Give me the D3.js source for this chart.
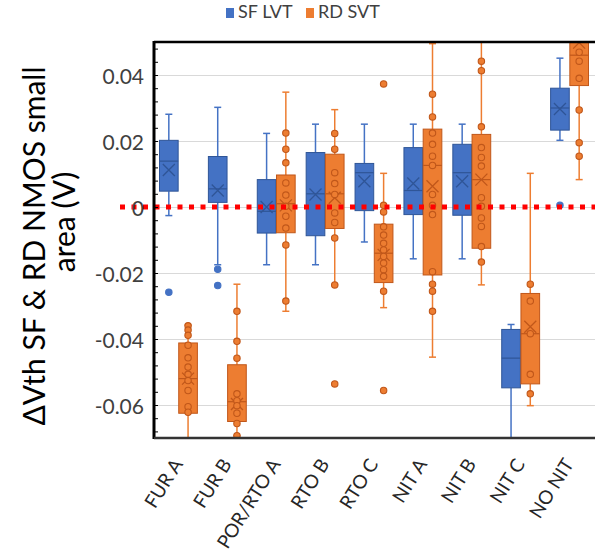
<!DOCTYPE html>
<html>
<head>
<meta charset="utf-8">
<script src="https://cdn.jsdelivr.net/npm/d3@7"></script>
<style>
  body { margin: 0; background: #fff; }
  svg { display: block; font-family: Lato, "Open Sans", sans-serif; }
</style>
</head>
<body>
<svg id="chart" width="595" height="553"></svg>
<script>
// categories + legend names
const categories = ["FUR A", "FUR B", "POR/RTO A", "RTO B", "RTO C", "NIT A", "NIT B", "NIT C", "NO NIT"];
const series = ["SF LVT", "RD SVT"];

// SF LVT box stats
const sfMin    = [-0.0026, -0.0175, -0.0175, -0.0175, -0.0106, -0.0157, -0.0157, -0.075, 0.0202];
const sfQ1     = [0.0048, 0.0014, -0.0079, -0.0087, -0.0011, -0.0023, -0.0025, -0.0548, 0.0233];
const sfMedian = [0.0139, 0.0055, -0.0013, 0.0040, 0.0104, 0.0050, 0.0104, -0.0458, 0.0300];
const sfQ3     = [0.0202, 0.0153, 0.0083, 0.0165, 0.0132, 0.0180, 0.0190, -0.0371, 0.0360];
const sfMax    = [0.0281, 0.0302, 0.0223, 0.0251, 0.0251, 0.0251, 0.0251, -0.0356, 0.0451];
const sfMean   = [0.0112, 0.0050, 0.0000, 0.0038, 0.0078, 0.0071, 0.0078, null, 0.0297];
const sfOutliers = [[-0.0258], [-0.0189, -0.0238], [], [], [], [], [], [], [0.0005]];

// RD SVT box stats
const rdMin    = [-0.075, -0.0693, -0.0316, -0.0236, -0.0305, -0.0455, -0.0236, -0.0602, 0.0083];
const rdQ1     = [-0.0625, -0.0650, -0.0078, -0.0065, -0.0229, -0.0206, -0.0125, -0.0536, 0.0368];
const rdMedian = [-0.0520, -0.0590, 0.0010, 0.0040, -0.0140, 0.0126, 0.0083, -0.0384, 0.0460];
const rdQ3     = [-0.0412, -0.0478, 0.0097, 0.0160, -0.0052, 0.0236, 0.0220, -0.0262, 0.0600];
const rdMax    = [-0.0358, -0.0234, 0.0348, 0.0295, 0.0102, 0.0495, 0.0550, 0.0102, 0.0700];
const rdMean   = [-0.0520, -0.0597, 0.0005, 0.0028, -0.0145, 0.0063, 0.0083, -0.0363, 0.0498];
const rdPoints = [
  [-0.0360, -0.0373, -0.0389, -0.0419, -0.0457, -0.0485, -0.0507, -0.0526, -0.0556, -0.0605, -0.0622],
  [-0.0316, -0.0407, -0.0458, -0.0566, -0.0587, -0.0602, -0.0625, -0.0656, -0.0693],
  [0.0224, 0.0175, 0.0134, 0.0073, 0.0036, 0.0002, -0.0028, -0.0064, -0.0115, -0.0285],
  [0.0223, 0.0175, 0.0104, 0.0071, 0.0038, -0.0018, -0.0047, -0.0094, -0.0236, -0.0536],
  [0.0373, 0.0005, -0.0015, -0.0060, -0.0085, -0.0110, -0.0130, -0.0150, -0.0170, -0.0190, -0.0210, -0.0255, -0.0556],
  [0.0342, 0.0273, 0.0224, 0.0190, 0.0154, 0.0126, 0.0038, 0.0005, -0.0023, -0.0196, -0.0234, -0.0255, -0.0316],
  [0.0442, 0.0413, 0.0243, 0.0180, 0.0150, 0.0124, 0.0028, 0.0002, -0.0033, -0.0059, -0.0120, -0.0167],
  [-0.0234, -0.0285, -0.0384, -0.0507, -0.0566],
  [0.0469, 0.0442, 0.0390, 0.0294, 0.0195, 0.0154]
];

const yTicks = [-0.06, -0.04, -0.02, 0, 0.02, 0.04];
const yTickLabels = ["-0.06", "-0.04", "-0.02", "0", "0.02", "0.04"];

const colors = { "SF LVT": "#4472C4", "RD SVT": "#ED7D31" };
const dark   = { "SF LVT": "#2F5597", "RD SVT": "#C0571A" };

const svg = d3.select("#chart");
const pLeft = 154, pRight = 594, pTop = 42, pBottom = 438;

const y = d3.scaleLinear().domain([-0.07, 0.05]).range([pBottom, pTop]);
const x = d3.scaleBand().domain(categories).range([pLeft, pRight]);
const xs = d3.scaleBand().domain(series).range([5.5, x.bandwidth() - 5.5]).paddingInner(0.03);

// build rows for drawing
const rows = [];
categories.forEach((c, i) => {
  rows.push({ cat: c, s: "SF LVT", min: sfMin[i], q1: sfQ1[i], med: sfMedian[i], q3: sfQ3[i], max: sfMax[i], mean: sfMean[i], pts: sfOutliers[i] });
  rows.push({ cat: c, s: "RD SVT", min: rdMin[i], q1: rdQ1[i], med: rdMedian[i], q3: rdQ3[i], max: rdMax[i], mean: rdMean[i], pts: rdPoints[i] });
});

svg.append("defs").append("clipPath").attr("id", "plot")
  .append("rect").attr("x", pLeft).attr("y", pTop).attr("width", 595 - pLeft).attr("height", pBottom - pTop);

// gridlines
svg.append("g")
  .attr("transform", `translate(${pLeft},0)`)
  .call(d3.axisLeft(y).tickValues(yTicks).tickSize(-(595 - pLeft)).tickFormat(""))
  .call(g => g.select(".domain").remove())
  .call(g => g.selectAll("line").attr("stroke", "#d9d9d9").attr("stroke-width", 1));

const plot = svg.append("g").attr("clip-path", "url(#plot)");

const box = plot.selectAll("g.box").data(rows).enter().append("g")
  .attr("class", "box")
  .attr("transform", d => `translate(${x(d.cat) + xs(d.s)},0)`);

const bw = xs.bandwidth();
const cx = bw / 2;

// whiskers
box.append("line")
  .attr("x1", cx).attr("x2", cx)
  .attr("y1", d => y(d.max)).attr("y2", d => y(d.q3))
  .attr("stroke", d => colors[d.s]).attr("stroke-width", 1.5);
box.append("line")
  .attr("x1", cx).attr("x2", cx)
  .attr("y1", d => y(d.q1)).attr("y2", d => y(d.min))
  .attr("stroke", d => colors[d.s]).attr("stroke-width", 1.5);
box.selectAll("line.cap").data(d => [d.min, d.max].map(v => ({ v, s: d.s }))).enter().append("line")
  .attr("class", "cap")
  .attr("x1", cx - 3.5).attr("x2", cx + 3.5)
  .attr("y1", d => y(d.v)).attr("y2", d => y(d.v))
  .attr("stroke", d => colors[d.s]).attr("stroke-width", 1.5);

// box
box.append("rect")
  .attr("x", 0).attr("width", bw)
  .attr("y", d => y(d.q3)).attr("height", d => y(d.q1) - y(d.q3))
  .attr("fill", d => colors[d.s]).attr("stroke", d => dark[d.s]).attr("stroke-width", 1);

// median
box.append("line")
  .attr("x1", 0).attr("x2", bw)
  .attr("y1", d => y(d.med)).attr("y2", d => y(d.med))
  .attr("stroke", d => dark[d.s]).attr("stroke-width", 1.2);

// mean X
box.filter(d => d.mean != null).append("path")
  .attr("d", d => {
    const m = y(d.mean), r = 6;
    return `M${cx - r},${m - r}L${cx + r},${m + r}M${cx - r},${m + r}L${cx + r},${m - r}`;
  })
  .attr("fill", "none").attr("stroke", d => dark[d.s]).attr("stroke-width", 1.3);

// points
box.selectAll("circle").data(d => d.pts.map(v => ({ v, s: d.s }))).enter().append("circle")
  .attr("cx", cx).attr("cy", d => y(d.v))
  .attr("r", 3.2)
  .attr("fill", d => colors[d.s])
  .attr("stroke", d => d.s === "RD SVT" ? dark[d.s] : colors[d.s])
  .attr("stroke-width", 1.1);

// zero reference line (red dotted)
svg.append("line")
  .attr("x1", 120).attr("x2", 595)
  .attr("y1", y(0)).attr("y2", y(0))
  .attr("stroke", "#FF0000").attr("stroke-width", 5)
  .attr("stroke-dasharray", "5,6.5");

// minor ticks inside the axis
svg.append("g")
  .attr("transform", `translate(${pLeft},0)`)
  .call(d3.axisRight(y).tickValues(d3.range(-17, 13).map(k => k * 0.004)).tickSize(4).tickFormat(""))
  .call(g => g.select(".domain").remove())
  .call(g => g.selectAll("line").attr("stroke", "#000").attr("stroke-width", 1));

// y labels
svg.append("g")
  .attr("transform", `translate(${pLeft},0)`)
  .call(d3.axisLeft(y).tickValues(yTicks).tickSize(0).tickPadding(10)
    .tickFormat((d, i) => yTickLabels[i]))
  .call(g => g.select(".domain").remove())
  .call(g => g.selectAll("text").attr("font-size", 21).attr("fill", "#404040")
    .attr("font-family", "Lato, sans-serif").attr("dy", "0.4em"));

// frame lines
svg.append("line").attr("x1", pLeft).attr("x2", pLeft).attr("y1", pTop - 1).attr("y2", pBottom + 1)
  .attr("stroke", "#000").attr("stroke-width", 3);
svg.append("line").attr("x1", pLeft).attr("x2", 595).attr("y1", pTop).attr("y2", pTop)
  .attr("stroke", "#000").attr("stroke-width", 2.5);
svg.append("line").attr("x1", pLeft).attr("x2", 595).attr("y1", pBottom).attr("y2", pBottom)
  .attr("stroke", "#333").attr("stroke-width", 2.5);

// x labels
svg.append("g").selectAll("text").data(categories).enter().append("text")
  .attr("transform", d => `translate(${x(d) + x.bandwidth() / 2 + 5},464) rotate(-58)`)
  .attr("text-anchor", "end")
  .attr("font-size", 19)
  .attr("fill", "#262626")
  .text(d => d);

// y title
svg.append("text")
  .attr("transform", "translate(45,246) rotate(-90)")
  .attr("text-anchor", "middle").attr("font-size", 30).attr("fill", "#000")
  .text("ΔVth SF & RD NMOS small");
svg.append("text")
  .attr("transform", "translate(75,222) rotate(-90)")
  .attr("text-anchor", "middle").attr("font-size", 30).attr("fill", "#000")
  .text("area (V)");

// legend
const legX = [226, 306];
const leg = svg.append("g").selectAll("g").data(series).enter().append("g")
  .attr("transform", (d, i) => `translate(${legX[i]},8)`);
leg.append("rect").attr("width", 8).attr("height", 10).attr("fill", d => colors[d]);
leg.append("text").attr("x", 12).attr("y", 10).attr("font-size", 18).attr("fill", "#404040").text(d => d);
</script>
</body>
</html>
